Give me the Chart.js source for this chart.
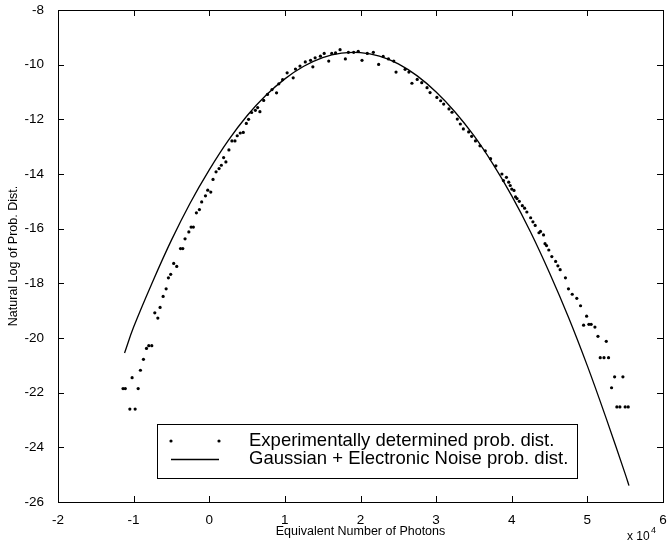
<!DOCTYPE html>
<html>
<head>
<meta charset="utf-8">
<script src="https://cdn.jsdelivr.net/npm/chart.js@4.4.1/dist/chart.umd.min.js"></script>
<style>
    html, body { margin: 0; padding: 0; background: #ffffff; }
    #wrap { width: 670px; height: 543px; position: relative; }
</style>
</head>
<body>
<div id="wrap"><canvas id="chart"></canvas></div>
<script>
// measured points (x in units of 10^4 photons)
const expX = [
    -1.14, -1.11, -1.05, -1.02, -0.98, -0.94, -0.91, -0.87, -0.83, -0.80,
    -0.76, -0.72, -0.68, -0.65, -0.61, -0.57, -0.54, -0.51, -0.47, -0.43,
    -0.38, -0.35, -0.32, -0.27, -0.24, -0.21, -0.17, -0.13, -0.10, -0.05,
    -0.02, 0.02, 0.05, 0.09, 0.13, 0.16, 0.19, 0.22, 0.26, 0.30,
    0.34, 0.37, 0.41, 0.45, 0.49, 0.52, 0.56, 0.61, 0.64, 0.67,
    0.72, 0.77, 0.83, 0.89, 0.92, 0.97, 1.03, 1.11, 1.14, 1.20,
    1.27, 1.34, 1.37, 1.40, 1.47, 1.52, 1.58, 1.62, 1.67, 1.73,
    1.80, 1.84, 1.91, 1.97, 2.02, 2.09, 2.17, 2.24, 2.30, 2.37,
    2.44, 2.47, 2.59, 2.64, 2.68, 2.75, 2.81, 2.88, 2.92, 3.01,
    3.06, 3.10, 3.17, 3.21, 3.28, 3.32, 3.36, 3.43, 3.47, 3.52,
    3.58, 3.65, 3.72, 3.79, 3.87, 3.89, 3.93, 3.96, 3.98, 4.00,
    4.03, 4.05, 4.07, 4.10, 4.14, 4.17, 4.20, 4.25, 4.28, 4.31,
    4.36, 4.38, 4.42, 4.44, 4.46, 4.49, 4.53, 4.58, 4.61, 4.64,
    4.71, 4.75, 4.80, 4.86, 4.91, 4.95, 4.99, 5.02, 5.05, 5.10,
    5.14, 5.17, 5.22, 5.25, 5.28, 5.32, 5.36, 5.39, 5.43, 5.47,
    5.50, 5.54
];
const expY = [
    -21.85, -21.85, -22.60, -21.45, -22.60, -21.85, -21.18, -20.78, -20.38, -20.28,
    -20.28, -19.08, -19.27, -18.88, -18.48, -18.20, -17.80, -17.67, -17.27, -17.38,
    -16.73, -16.73, -16.37, -16.12, -15.94, -15.94, -15.42, -15.30, -15.02, -14.80,
    -14.59, -14.66, -14.20, -13.92, -13.80, -13.68, -13.40, -13.56, -13.12, -12.79,
    -12.79, -12.60, -12.50, -12.48, -12.15, -12.00, -11.75, -11.67, -11.57, -11.72,
    -11.31, -11.09, -10.91, -11.03, -10.70, -10.55, -10.30, -10.48, -10.16, -10.05,
    -9.90, -9.84, -10.08, -9.75, -9.69, -9.59, -9.87, -9.59, -9.57, -9.45,
    -9.79, -9.55, -9.55, -9.51, -9.84, -9.59, -9.55, -9.99, -9.70, -9.79,
    -9.87, -10.27, -10.17, -10.27, -10.68, -10.54, -10.66, -10.84, -11.02, -11.20,
    -11.32, -11.44, -11.62, -11.74, -11.99, -12.17, -12.35, -12.46, -12.62, -12.79,
    -12.97, -13.15, -13.44, -13.70, -14.00, -14.24, -14.12, -14.30, -14.42, -14.55,
    -14.60, -14.84, -14.90, -15.00, -15.16, -15.25, -15.39, -15.60, -15.75, -15.88,
    -16.15, -16.10, -16.23, -16.55, -16.62, -16.78, -17.02, -17.20, -17.36, -17.50,
    -17.80, -18.20, -18.40, -18.55, -18.82, -19.53, -19.20, -19.50, -19.50, -19.60,
    -19.94, -20.72, -20.72, -20.12, -20.72, -21.82, -21.42, -22.52, -22.52, -21.42,
    -22.52, -22.52
];

// model curve
const fitX = [
    -1.12, -1.0, -0.75, -0.5, -0.25, 0, 0.25, 0.5, 0.75, 1.0,
    1.25, 1.5, 1.75, 2.0, 2.25, 2.5, 2.75, 3.0, 3.25, 3.5,
    3.75, 4.0, 4.25, 4.5, 4.75, 5.0, 5.25, 5.5, 5.55
];
const fitY = [
    -20.55, -19.60, -17.95, -16.42, -15.05, -13.85, -12.78, -11.87, -11.12, -10.52,
    -10.06, -9.74, -9.58, -9.56, -9.69, -9.97, -10.41, -11.00, -11.73, -12.60,
    -13.63, -14.80, -16.13, -17.62, -19.24, -21.02, -22.95, -24.97, -25.40
];

const seriesLabels = [
    "Experimentally determined prob. dist.",
    "Gaussian + Electronic Noise prob. dist."
];
const xTitle = "Equivalent Number of Photons";
const yTitle = "Natural Log of Prob. Dist.";

const FONT = "'Liberation Sans', Arial, Helvetica, sans-serif";

const framePlugin = {
    id: "frame",
    afterDraw(chart) {
        const ctx = chart.ctx;
        const a = chart.chartArea;
        const xs = chart.scales.x;
        const ys = chart.scales.y;
        ctx.save();
        ctx.strokeStyle = "#000";
        ctx.lineWidth = 1;
        ctx.strokeRect(Math.round(a.left) + 0.5, Math.round(a.top) + 0.5,
            Math.round(a.right - a.left), Math.round(a.bottom - a.top));
        ctx.beginPath();
        for (let t of xs.ticks) {
            const px = Math.round(xs.getPixelForValue(t.value)) + 0.5;
            ctx.moveTo(px, a.bottom); ctx.lineTo(px, a.bottom - 6);
            ctx.moveTo(px, a.top); ctx.lineTo(px, a.top + 6);
        }
        for (let t of ys.ticks) {
            const py = Math.round(ys.getPixelForValue(t.value)) + 0.5;
            ctx.moveTo(a.left, py); ctx.lineTo(a.left + 6, py);
            ctx.moveTo(a.right, py); ctx.lineTo(a.right - 6, py);
        }
        ctx.stroke();

        // exponent note under the x axis
        ctx.fillStyle = "#000";
        ctx.textBaseline = "alphabetic";
        ctx.textAlign = "left";
        ctx.font = "12px " + FONT;
        ctx.fillText("x 10", 627, 540);
        ctx.font = "9px " + FONT;
        ctx.fillText("4", 651, 533);

        // legend box
        const lx = 157, ly = 424, lw = 420, lh = 54;
        ctx.fillStyle = "#fff";
        ctx.fillRect(lx, ly, lw, lh);
        ctx.strokeRect(lx + 0.5, ly + 0.5, lw, lh);
        ctx.fillStyle = "#000";
        ctx.beginPath();
        ctx.arc(171, 441, 1.6, 0, Math.PI * 2);
        ctx.arc(219, 441, 1.6, 0, Math.PI * 2);
        ctx.fill();
        ctx.beginPath();
        ctx.lineWidth = 1.3;
        ctx.moveTo(171, 459.5); ctx.lineTo(219, 459.5);
        ctx.stroke();
        ctx.font = "18.5px " + FONT;
        ctx.textBaseline = "middle";
        ctx.fillText(chart.data.datasets[0].label, 249, 441);
        ctx.fillText(chart.data.datasets[1].label, 249, 459);
        ctx.restore();
    }
};

new Chart(document.getElementById("chart").getContext("2d"), {
    type: "scatter",
    data: {
        datasets: [
            {
                label: seriesLabels[0],
                data: expX.map((x, i) => ({ x: x, y: expY[i] })),
                pointRadius: 1.6,
                pointBorderWidth: 0,
                pointBackgroundColor: "#000",
                showLine: false
            },
            {
                label: seriesLabels[1],
                type: "line",
                data: fitX.map((x, i) => ({ x: x, y: fitY[i] })),
                borderColor: "#000",
                borderWidth: 1.3,
                pointRadius: 0,
                tension: 0.4,
                fill: false
            }
        ]
    },
    options: {
        responsive: true,
        maintainAspectRatio: false,
        animation: false,
        devicePixelRatio: 1,
        layout: { padding: { top: 10, right: 7, left: 0, bottom: 0 } },
        plugins: {
            legend: { display: false },
            tooltip: { enabled: false }
        },
        scales: {
            x: {
                type: "linear",
                min: -2,
                max: 6,
                afterFit: (scale) => {
                    scale.height = 41;
                    scale.paddingLeft = 0;
                    scale.paddingRight = 0;
                },
                grid: { display: false },
                border: { display: false },
                ticks: { stepSize: 1, color: "#000", padding: 2, maxRotation: 0, font: { family: FONT, size: 13.5 } },
                title: { display: true, text: xTitle, color: "#000", padding: { top: 0, bottom: 4 }, font: { family: FONT, size: 12.5 } }
            },
            y: {
                type: "linear",
                min: -26,
                max: -8,
                afterFit: (scale) => {
                    scale.width = 58;
                    scale.paddingTop = 0;
                    scale.paddingBottom = 0;
                },
                grid: { display: false },
                border: { display: false },
                ticks: { stepSize: 2, color: "#000", padding: 6, font: { family: FONT, size: 13.5 } },
                title: { display: true, text: yTitle, color: "#000", padding: { top: 6, bottom: 0 }, font: { family: FONT, size: 12.5 } }
            }
        }
    },
    plugins: [framePlugin]
});
</script>
</body>
</html>
